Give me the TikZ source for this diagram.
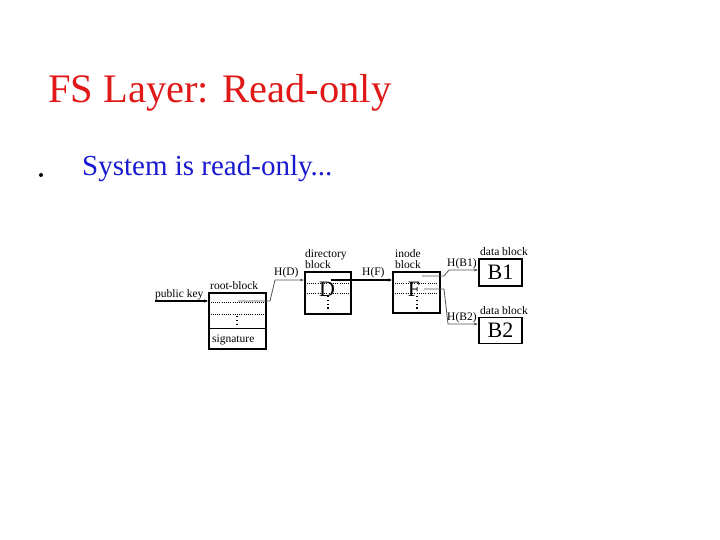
\documentclass[tikz,border=0pt]{standalone}
\usepackage{fontspec}
\setmainfont{Liberation Serif}
\usetikzlibrary{arrows.meta}
\definecolor{titlered}{HTML}{E01818}
\definecolor{bulletblue}{HTML}{1A1AD0}
\definecolor{ptrgray}{HTML}{555555}
\begin{document}
\begin{tikzpicture}[x=1pt,y=-1pt,
  blockbox/.style={draw, line width=1.3pt, inner sep=0pt},
  lbl/.style={anchor=base west, inner sep=0pt, font=\fontsize{11.5}{12}\selectfont},
  bigl/.style={inner sep=0pt, font=\fontsize{22}{24}\selectfont},
  slot/.style={line width=1pt, dash pattern=on 1pt off 1.2pt},
  vdots/.style={line width=1.2pt, dash pattern=on 1.2pt off 2.6pt},
  ptr/.style={line width=0.8pt, ptrgray, -{Latex[length=4pt,width=3pt]}},
  thickptr/.style={line width=1.6pt, -{Latex[length=4pt,width=3.5pt]}}]
\fill[white] (0,0) rectangle (720,540);
\useasboundingbox (0,0) rectangle (720,540);

% title and bullet
\node[anchor=base west, inner sep=0pt, text=titlered, font=\fontsize{40.5}{44}\selectfont] (title) at (48,103) {FS Layer: Read-only};
\fill (41,175) circle (2);
\node[anchor=base west, inner sep=0pt, text=bulletblue, font=\fontsize{29}{32}\selectfont] (bullet) at (82,176) {System is read-only...};

% blocks
\node[blockbox, minimum width=57pt, minimum height=56pt] (root) at (237.5,321) {};
\node[blockbox, minimum width=46pt, minimum height=42pt] (dir) at (328,293) {};
\node[blockbox, minimum width=47pt, minimum height=41pt] (inode) at (416.5,292.5) {};
\node[blockbox, minimum width=43pt, minimum height=27pt, bigl] (b1) at (500.5,272.5) {B1};
\node[blockbox, minimum width=43pt, minimum height=26pt, bigl] (b2) at (500.5,330.5) {B2};

% labels
\node[lbl] (pk) at (155,297) {public key};
\node[lbl] (rootlbl) at (210,289) {root-block};
\node[lbl] (sig) at (212,342) {signature};
\node[lbl] (hd) at (274,275) {H(D)};
\node[lbl] (dirlbl1) at (305,258) {directory};
\node[lbl] (dirlbl2) at (305,268) {block};
\node[lbl] (hf) at (362,275) {H(F)};
\node[lbl] (inlbl1) at (395,258) {inode};
\node[lbl] (inlbl2) at (395,268) {block};
\node[lbl] (hb1) at (447,266) {H(B1)};
\node[lbl] (hb2) at (447,320) {H(B2)};
\node[lbl] (db1) at (480,255) {data block};
\node[lbl] (db2) at (480,314) {data block};
\node[bigl] (dl) at (327,289) {D};
\node[bigl] (fl) at (414,289) {F};

% root-block internals
\draw[slot] (root.west |- 0,302.5) -- (root.east |- 0,302.5);
\draw[slot] (root.west |- 0,314) -- (root.east |- 0,314);
\draw[vdots] (237,316) -- (237,327);
\draw[line width=0.8pt] (root.west |- 0,328) -- (root.east |- 0,328);

% directory internals
\draw[slot] (dir.west |- 0,283) -- (dir.east |- 0,283);
\draw[slot] (dir.west |- 0,293) -- (dir.east |- 0,293);
\draw[vdots] (328,296) -- (328,311);

% inode internals
\draw[slot] (inode.west |- 0,283) -- (inode.east |- 0,283);
\draw[slot] (inode.west |- 0,293) -- (inode.east |- 0,293);
\draw[vdots] (417,296) -- (417,311);

% connectors
\coordinate (pkend) at (155,301);
\draw[thickptr] (pkend) -- (root.west |- pkend);

\coordinate (hdstart) at (238,301);
\coordinate (hdy) at (0,280);
\draw[ptr] (hdstart) -- (270,301) -- (275,280) -- (dir.west |- hdy);

\coordinate (hfstart) at (331,280);
\draw[thickptr] (hfstart) -- (inode.west |- hfstart);

\coordinate (hb1start) at (422,276);
\coordinate (hb1y) at (0,270);
\draw[ptr] (hb1start) -- (444,276) -- (449,270) -- (b1.west |- hb1y);

\coordinate (hb2start) at (424,289);
\coordinate (hb2y) at (0,324);
\draw[ptr] (hb2start) -- (444,289) -- (448,324) -- (b2.west |- hb2y);
\end{tikzpicture}
\end{document}
